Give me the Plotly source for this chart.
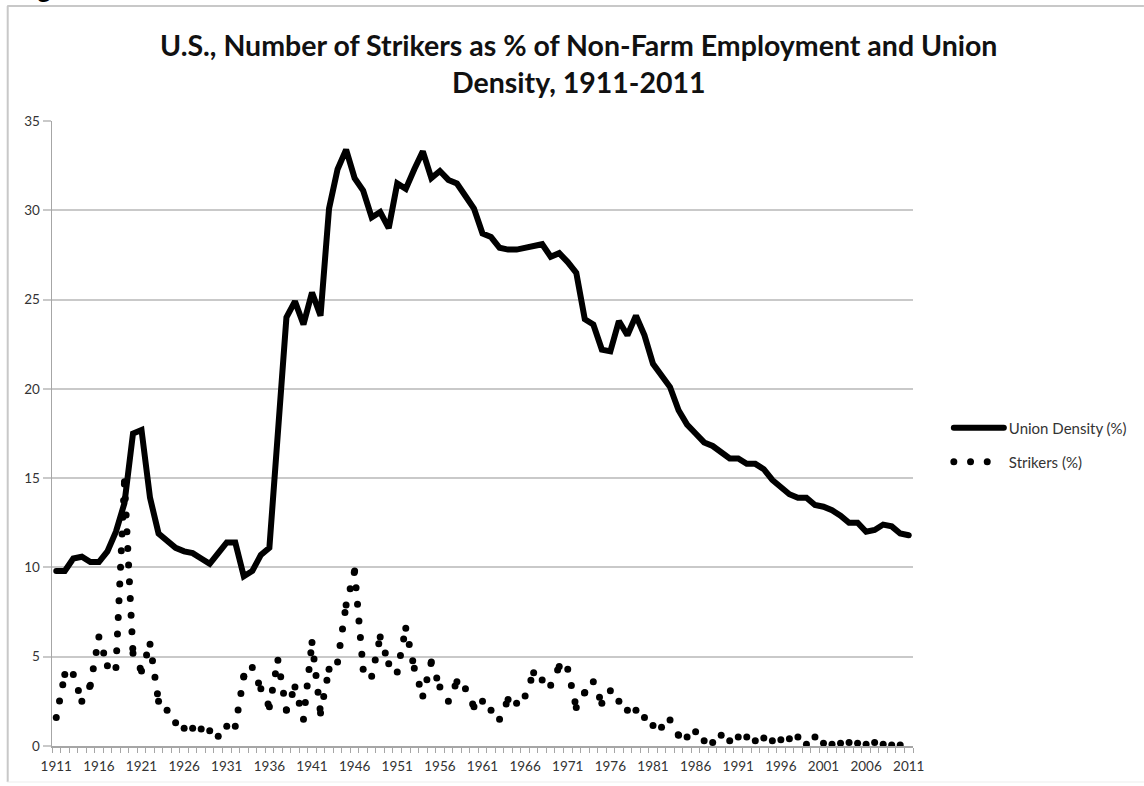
import plotly.graph_objects as go

# ---- data -------------------------------------------------------------
years = list(range(1911, 2012))

union_density = [
    9.8, 9.8, 10.5, 10.6, 10.3, 10.3, 10.9, 12.0, 13.6, 17.5,      # 1911-1920
    17.7, 13.9, 11.9, 11.5, 11.1, 10.9, 10.8, 10.5, 10.2, 10.8,    # 1921-1930
    11.4, 11.4, 9.5, 9.8, 10.7, 11.1, 17.6, 24.0, 24.9, 23.6,      # 1931-1940
    25.4, 24.1, 30.1, 32.3, 33.4, 31.8, 31.1, 29.6, 29.9, 29.0,    # 1941-1950
    31.5, 31.2, 32.3, 33.3, 31.8, 32.2, 31.7, 31.5, 30.8, 30.1,    # 1951-1960
    28.7, 28.5, 27.9, 27.8, 27.8, 27.9, 28.0, 28.1, 27.4, 27.6,    # 1961-1970
    27.1, 26.5, 23.9, 23.6, 22.2, 22.1, 23.8, 23.0, 24.1, 23.0,    # 1971-1980
    21.4, 20.8, 20.1, 18.8, 18.0, 17.5, 17.0, 16.8, 16.4, 16.1,    # 1981-1990
    16.1, 15.8, 15.8, 15.5, 14.9, 14.5, 14.1, 13.9, 13.9, 13.5,    # 1991-2000
    13.4, 13.2, 12.9, 12.5, 12.5, 12.0, 12.1, 12.4, 12.3, 11.9,    # 2001-2010
    11.8,                                                           # 2011
]

strikers = [
    1.6, 4.0, 4.0, 2.5, 3.4, 6.1, 4.5, 4.4, 14.8, 5.2,             # 1911-1920
    4.2, 5.7, 2.5, 2.0, 1.3, 1.0, 1.0, 0.95, 0.85, 0.55,           # 1921-1930
    1.1, 1.1, 3.9, 4.4, 3.2, 2.2, 4.8, 2.0, 3.3, 1.5,              # 1931-1940
    5.8, 1.85, 4.3, 4.7, 7.9, 9.8, 4.3, 3.9, 6.1, 4.6,             # 1941-1950
    4.15, 6.6, 4.35, 2.8, 4.7, 3.3, 2.5, 3.6, 3.2, 2.2,            # 1951-1960
    2.5, 2.0, 1.5, 2.6, 2.4, 2.8, 4.1, 3.7, 3.4, 4.45,             # 1961-1970
    4.3, 2.15, 3.0, 3.6, 2.4, 3.1, 2.5, 2.0, 2.0, 1.6,             # 1971-1980
    1.15, 1.05, 1.45, 0.6, 0.5, 0.8, 0.3, 0.2, 0.6, 0.3,           # 1981-1990
    0.5, 0.5, 0.3, 0.45, 0.3, 0.35, 0.4, 0.5, 0.1, 0.5,            # 1991-2000
    0.15, 0.1, 0.15, 0.2, 0.15, 0.1, 0.2, 0.1, 0.05, 0.05,         # 2001-2010
    0.05,                                                           # 2011
]

tick_years = list(range(1911, 2012, 5))
y_ticks = [0, 5, 10, 15, 20, 25, 30, 35]

TITLE_1 = "U.S., Number of Strikers as % of Non-Farm Employment and Union"
TITLE_2 = "Density, 1911-2011"

# ---- page geometry -----------------------------------------------------
W, H = 1144, 786
ML, MR, MT, MB = 52, 227, 121, 40
PW, PH = W - ML - MR, H - MT - MB


def xp(px):
    return (px - ML) / PW


def yp(py):
    return (H - MB - py) / PH


FONT = "Lato"
GRID = "#c9c9c9"
AXIS = "#a6a6a6"
TXT = "#333333"

# The dotted series restarts its dot pattern at every data point, so the
# line is split into one sub-path per year-to-year step.
seg_x, seg_y = [], []
for i in range(len(years) - 1):
    seg_x += [years[i], years[i + 1], None]
    seg_y += [strikers[i], strikers[i + 1], None]

fig = go.Figure()
fig.add_trace(go.Scatter(
    x=years, y=union_density, mode="lines", name="Union Density (%)",
    line=dict(color="black", width=6), legend="legend",
    hoverinfo="skip",
))
fig.add_trace(go.Scatter(
    x=seg_x, y=seg_y, mode="lines", name="Strikers (%)",
    line=dict(color="black", width=7, dash="0px,16.7px"),
    connectgaps=False, legend="legend2", hoverinfo="skip",
))

legend_common = dict(
    font=dict(family=FONT, size=15, color=TXT),
    bgcolor="rgba(0,0,0,0)", borderwidth=0,
    itemwidth=50, xanchor="left", yanchor="middle",
)

fig.update_layout(
    width=W, height=H,
    margin=dict(l=ML, r=MR, t=MT, b=MB, pad=0),
    paper_bgcolor="white", plot_bgcolor="white",
    showlegend=True,
    legend=dict(x=xp(953), y=yp(428), **legend_common),
    legend2=dict(x=xp(953), y=yp(462), **legend_common),
    xaxis=dict(
        range=[1910.5, 2011.5], tickmode="array", tickvals=tick_years,
        ticks="outside", ticklen=7, tickcolor="rgba(0,0,0,0)",
        tickfont=dict(family=FONT, size=13.5, color=TXT),
        showgrid=False, zeroline=False,
        showline=True, linecolor=AXIS, linewidth=1.5,
        minor=dict(tick0=1910.5, dtick=1, ticks="outside", ticklen=5,
                   tickcolor=AXIS, tickwidth=1, showgrid=False),
        fixedrange=True,
    ),
    yaxis=dict(
        range=[0, 35], tickmode="array", tickvals=y_ticks,
        ticks="outside", ticklen=8, tickcolor=GRID, tickwidth=2,
        tickfont=dict(family=FONT, size=13.5, color=TXT),
        showgrid=True, gridcolor=GRID, gridwidth=2,
        zeroline=False, showline=True, linecolor=AXIS, linewidth=1.5,
        fixedrange=True,
    ),
    annotations=[
        dict(text=TITLE_1, x=xp(581), y=yp(45), xref="paper", yref="paper",
             xanchor="center", yanchor="middle", showarrow=False,
             font=dict(family=FONT, size=28.5, color="#111111", weight="bold")),
        dict(text=TITLE_2, x=xp(581), y=yp(82), xref="paper", yref="paper",
             xanchor="center", yanchor="middle", showarrow=False,
             font=dict(family=FONT, size=28.5, color="#111111", weight="bold")),
        dict(text="Figure", x=xp(14), y=yp(6.5), xref="paper", yref="paper",
             xanchor="left", yanchor="bottom", showarrow=False,
             font=dict(family=FONT, size=26, color="black", weight="bold")),
    ],
    shapes=[
        dict(type="line", xref="paper", yref="paper",
             x0=xp(7), x1=xp(W + 5), y0=yp(6), y1=yp(6),
             line=dict(color="#c8c8c8", width=2)),
        dict(type="line", xref="paper", yref="paper",
             x0=xp(7.5), x1=xp(7.5), y0=yp(6), y1=yp(782),
             line=dict(color="#c8c8c8", width=2)),
        dict(type="line", xref="paper", yref="paper",
             x0=xp(7), x1=xp(W + 5), y0=yp(782), y1=yp(782),
             line=dict(color="#ededed", width=1)),
    ],
)

# round line caps turn the zero-length dashes into round dots
round_caps = """
var st = document.createElement('style');
st.textContent = 'path.js-line, .legendlines path { stroke-linecap: round !important; }';
document.head.appendChild(st);
"""

fig.write_html("out.html", post_script=round_caps,
               config={"displayModeBar": False, "staticPlot": True})
